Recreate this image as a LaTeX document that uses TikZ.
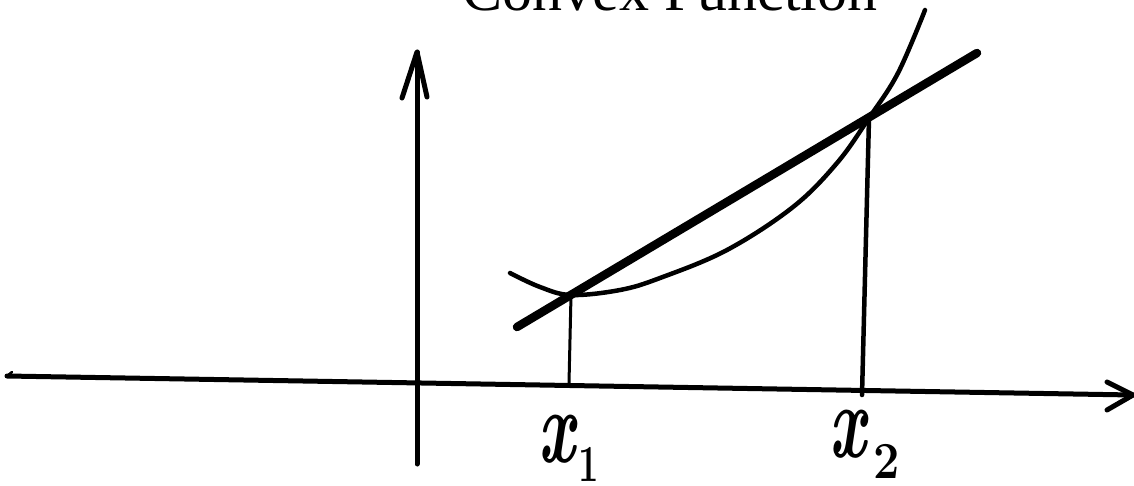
\documentclass[tikz,border=0pt]{standalone}
\usepackage{fontspec}
\newfontfamily\titlefont{Liberation Serif}
\usepackage{graphicx}
\begin{document}
\begin{tikzpicture}[x=1pt,y=-1pt, line cap=round, line join=round,
  axis/.style={line width=5pt},
  chord/.style={line width=8.5pt},
  curve/.style={line width=4.5pt},
  drop/.style={line width=3pt},
  dropthick/.style={line width=4.5pt},
  barb/.style={line width=5pt},
  lbl/.style={inner sep=0pt, font=\fontsize{105}{105}\selectfont\bfseries\itshape},
  sublbl/.style={inner sep=0pt, font=\fontsize{52}{52}\selectfont\bfseries}]
\clip (0,0) rectangle (1134,485);
\useasboundingbox (0,0) rectangle (1134,485);
% title
\node[anchor=base, inner sep=0pt, font=\titlefont\fontsize{60}{60}\selectfont] (title) at (670,10) {Convex Function};
% axes
\coordinate (xl) at (7,376);
\coordinate (xr) at (1133,395);
\coordinate (xbarbA) at (1107,382);
\coordinate (xbarbB) at (1107,410);
\coordinate (yb) at (417,464);
\coordinate (yt) at (417,52);
\coordinate (ybarbA) at (402,98);
\coordinate (ybarbB) at (427,97);
\coordinate (hook) at (12,372);
\draw[axis] (xl) -- (xr);
\draw[line width=2.5pt] (xl) -- (hook);
\draw[barb] (xbarbA) -- (xr) -- (xbarbB);
\draw[axis] (yb) -- (yt);
\draw[barb] (ybarbA) -- (yt) -- (ybarbB);
% chord and curve
\coordinate (P1) at (571,295);
\coordinate (P2) at (869,118);
\coordinate (cA) at (517,327);
\coordinate (cB) at (977,53);
\coordinate (F1) at (569,383);
\coordinate (F2) at (862,395);
\draw[chord] (cA) -- (cB);
\draw[curve] plot[smooth, tension=0.6] coordinates {(510,273) (540,287) (571,295) (620,290) (660,278) (727,250) (793,207) (837,163) (869,118) (898,73) (925,10)};
\draw[drop] (P1) -- (F1);
\draw[dropthick] (P2) -- (F2);
% labels
\node[lbl] (lx1) at (557,439) {\scalebox{0.62}[1]{x}};
\node[sublbl] (lx1s) at (589,464) {\scalebox{0.7}[1]{1}};
\node[lbl] (lx2) at (848,434) {\scalebox{0.62}[1]{x}};
\node[sublbl] (lx2s) at (887,461) {\scalebox{0.9}[1]{2}};
\end{tikzpicture}
\end{document}
